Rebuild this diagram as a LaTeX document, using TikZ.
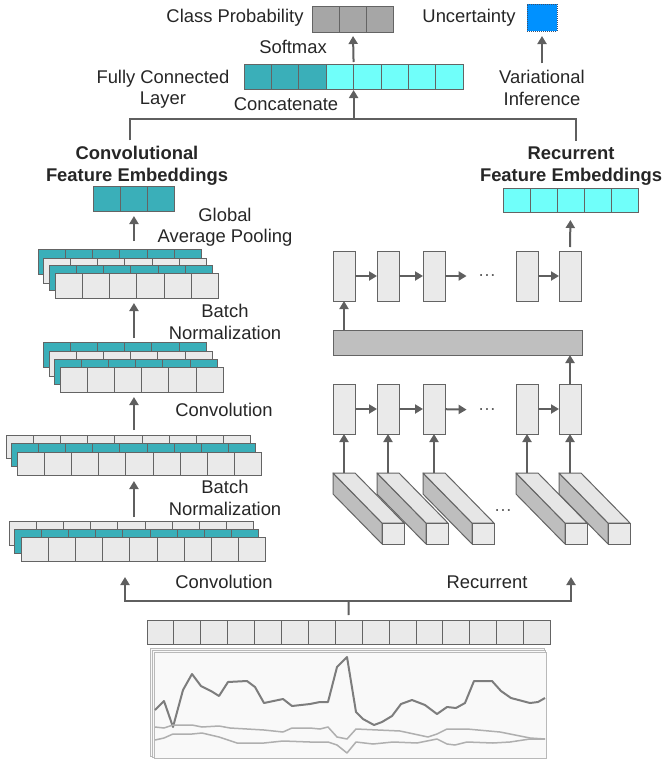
\documentclass[tikz,border=0pt]{standalone}
\usepackage{fontspec}
\setmainfont{Liberation Sans}
\usetikzlibrary{arrows.meta}
\definecolor{tealcell}{RGB}{58,175,185}
\definecolor{cyancell}{RGB}{112,255,250}
\definecolor{graycell}{RGB}{234,234,234}
\definecolor{probcell}{RGB}{166,166,166}
\definecolor{uncblue}{RGB}{0,145,255}
\definecolor{uncline}{RGB}{60,80,110}
\definecolor{barfill}{RGB}{191,191,191}
\definecolor{sidefill}{RGB}{190,190,190}
\definecolor{topfill}{RGB}{230,230,230}
\definecolor{edgegray}{RGB}{100,100,100}
\definecolor{arrowgray}{RGB}{95,95,95}
\definecolor{textgray}{RGB}{38,38,38}
\definecolor{pagefill}{RGB}{249,249,249}
\definecolor{pageline}{RGB}{185,185,185}
\definecolor{darkline}{RGB}{125,125,125}
\definecolor{lightline}{RGB}{175,175,175}

\tikzset{
    cellbox/.style={draw=edgegray, line width=1pt, inner sep=0pt, outer sep=0pt, anchor=north west},
    cellline/.style={draw=edgegray, line width=1pt},
    rnncell/.style={cellbox, fill=graycell, minimum width=22pt, minimum height=50pt},
    fcfill/.style={fill=cyancell, path picture={\fill[tealcell] (path picture bounding box.north west) rectangle ([xshift=82.2pt]path picture bounding box.south west);}},
    arr/.style={draw=arrowgray, line width=2pt, -{Triangle[length=8pt,width=9pt]}},
    link/.style={draw=arrowgray, line width=2pt},
    lbl/.style={text=textgray, font=\fontsize{18.4}{21.5}\selectfont, align=center, inner sep=0pt},
    ttl/.style={lbl, font=\fontsize{18.4}{21.5}\selectfont\bfseries},
    dots/.style={text=arrowgray, font=\fontsize{18.4}{21.5}\selectfont, inner sep=0pt},
}

% row of cells: name, x, y, cells, options, cell width, height
\newcommand{\cellrow}[7]{%
    \node[cellbox, #5, minimum width=#4*#6pt, minimum height=#7pt] (#1) at (#2,#3) {};
    \pgfmathtruncatemacro{\lastcell}{#4-1}
    \foreach \k in {1,...,\lastcell} {
        \draw[cellline] ([xshift=\k*#6pt]#1.north west) -- ([xshift=\k*#6pt]#1.south west);
    }
}

\begin{document}
\begin{tikzpicture}[x=1pt, y=-1pt]
    \useasboundingbox (0,0) rectangle (663,761);

    % Outputs
    \cellrow{prob}{312}{6}{3}{fill=probcell}{27.3}{26}
    \node[cellbox, fill=uncblue, draw=uncline, densely dotted, minimum width=30pt, minimum height=27pt] (unc) at (527,4) {};
    \node[lbl] (problbl) at (235,18) {Class Probability};
    \node[lbl] (unclbl) at (469,18) {Uncertainty};
    \node[lbl] (softlbl) at (293,47) {Softmax};
    \node[lbl] (varlbl) at (542,88) {Variational\\Inference};

    % Fully connected layer
    \cellrow{fc}{244}{64}{8}{fcfill}{27.4}{25}
    \node[lbl] (fclbl) at (163,89) {Fully Connected\\Layer};
    \node[lbl] (catlbl) at (286,104) {Concatenate};
    \draw[arr, shorten <=2pt, shorten >=4pt] (fc.north) -- (prob.south);
    \draw[arr, shorten <=7pt, shorten >=5pt] (varlbl.north) -- (unc.south);

    % Feature embeddings
    \node[ttl] (convlbl) at (137,166) {Convolutional\\Feature Embeddings};
    \node[ttl] (reclbl) at (571,166) {Recurrent\\Feature Embeddings};
    \cellrow{convemb}{93}{186}{3}{fill=tealcell}{27.3}{25}
    \cellrow{recemb}{503}{188}{5}{fill=cyancell}{27}{24}

    \coordinate (jl) at (130,119);
    \coordinate (jr) at (576,119);
    \draw[link, shorten <=6pt, shorten >=6pt] (convlbl.north -| jl) -- (jl) -- (jr) -- (reclbl.north -| jr);
    \draw[arr, shorten >=1pt] (fc.south |- jl) -- (fc.south);

    % Convolutional branch
    \begin{scope}[shift={(38,249)}]
        \foreach \dx/\dy/\col [count=\i] in {0/0/tealcell, 5/9/graycell, 11/16/tealcell, 17/24/graycell} {
            \cellrow{sa\i}{\dx}{\dy}{6}{fill=\col}{27.3}{25}
        }
    \end{scope}
    \begin{scope}[shift={(43,342)}]
        \foreach \dx/\dy/\col [count=\i] in {0/0/tealcell, 6/9/graycell, 11/17/tealcell, 17/25/graycell} {
            \cellrow{sb\i}{\dx}{\dy}{6}{fill=\col}{27.2}{25}
        }
    \end{scope}
    \begin{scope}[shift={(6,435)}]
        \foreach \dx/\dy/\col [count=\i] in {0/0/graycell, 5/8/tealcell, 11/17/graycell} {
            \cellrow{sc\i}{\dx}{\dy}{9}{fill=\col}{27.2}{23}
        }
    \end{scope}
    \begin{scope}[shift={(9,521)}]
        \foreach \dx/\dy/\col [count=\i] in {0/0/graycell, 5/8/tealcell, 12/16/graycell} {
            \cellrow{sd\i}{\dx}{\dy}{9}{fill=\col}{27.2}{24}
        }
    \end{scope}

    \draw[arr, shorten <=4pt, shorten >=6pt] (sd1.north -| convemb) -- (sc3.south -| convemb);
    \draw[arr, shorten <=5pt, shorten >=5pt] (sc1.north -| convemb) -- (sb4.south -| convemb);
    \draw[arr, shorten <=4pt, shorten >=5pt] (sb1.north -| convemb) -- (sa4.south -| convemb);
    \draw[arr, shorten <=8pt, shorten >=5pt] (sa1.north -| convemb) -- (convemb.south);

    \node[lbl] (gaplbl) at (225,227) {Global\\Average Pooling};
    \node[lbl] (bnalbl) at (225,322) {Batch\\Normalization};
    \node[lbl] (cvalbl) at (224,410) {Convolution};
    \node[lbl] (bnblbl) at (225,498) {Batch\\Normalization};
    \node[lbl] (cvblbl) at (224,582) {Convolution};
    \node[lbl] (rnnlbl) at (487,582) {Recurrent};

    % Recurrent branch
    \foreach \px [count=\i] in {333,377,423,516,559} {
        \node[rnncell] (u\i) at (\px,251) {};
        \node[rnncell] (l\i) at (\px,384) {};
    }
    \node[cellbox, fill=barfill, minimum width=249pt, minimum height=25pt] (bar) at (333,330) {};
    \node[dots] (udots) at (487,276) {\ldots};
    \node[dots] (ldots) at (487,410) {\ldots};
    \node[dots] (pdots) at (503,511) {\ldots};

    \draw[arr] (u1) -- (u2);
    \draw[arr] (u2) -- (u3);
    \draw[arr, shorten >=11pt] (u3) -- (udots);
    \draw[arr] (u4) -- (u5);
    \draw[arr] (l1) -- (l2);
    \draw[arr] (l2) -- (l3);
    \draw[arr, shorten >=11pt] (l3) -- (ldots);
    \draw[arr] (l4) -- (l5);
    \draw[arr] (bar.north -| u1) -- (u1.south);
    \draw[arr] (l5.north) -- (l5.north |- bar.south);
    \draw[arr, shorten <=4pt, shorten >=8pt] (u5.north) -- (recemb.south);

    % Sequence slices
    \foreach \px [count=\i] in {333,377,423,516,559} {
        \filldraw[fill=sidefill, draw=edgegray, line width=1pt, line join=round] (\px,473) -- (\px+49,523) -- (\px+49,544) -- (\px,494) -- cycle;
        \filldraw[fill=topfill, draw=edgegray, line width=1pt, line join=round] (\px,473) -- (\px+22,473) -- (\px+71,523) -- (\px+49,523) -- cycle;
        \filldraw[fill=graycell, draw=edgegray, line width=1pt] (\px+49,523) rectangle (\px+71,544);
        \coordinate (p\i) at (\px+11,473);
        \draw[arr] (p\i) -- (l\i.south);
    }

    % Input sequence
    \cellrow{input}{147}{620}{15}{fill=graycell}{26.9}{24}
    \coordinate (fork) at (348.5,601);
    \coordinate (convin) at (125,577);
    \coordinate (recin) at (571,577);
    \draw[link, shorten <=5pt] (input.north) -- (fork);
    \draw[arr] (fork) -| (convin);
    \draw[arr] (fork) -| (recin);

    % Time series
    \foreach \o in {4,2,0} {
        \filldraw[fill=pagefill, draw=pageline, line width=1pt] (154-\o,652-\o) rectangle (546-\o/2,758-\o/2);
    }
    \draw[darkline, line width=2pt, line join=round] plot coordinates {(155,710) (164,701) (173,727) (183,690) (192,674) (201,686) (211,691) (219,696) (228,682) (247,681) (255,687) (264,703) (283,699) (292,706) (310,704) (320,702) (328,702) (337,667) (347,657) (356,712) (363,719) (374,725) (382,722) (392,716) (401,704) (412,700) (425,705) (437,714) (447,707) (456,708) (465,703) (474,681) (492,681) (501,691) (511,698) (530,703) (538,702) (545,698)};
    \draw[lightline, line width=1.5pt, line join=round] plot coordinates {(155,727) (164,728) (173,725) (192,725) (202,727) (219,726) (230,728) (264,730) (283,732) (292,728) (310,728) (320,729) (328,727) (337,737) (347,739) (356,729) (400,731) (428,737) (437,734) (447,729) (467,729) (500,732) (530,738) (545,739)};
    \draw[lightline, line width=1.5pt, line join=round] plot coordinates {(155,740) (164,738) (173,734) (192,734) (202,733) (219,737) (237,743) (264,743) (283,741) (310,742) (328,742) (337,745) (347,753) (356,742) (373,744) (393,742) (417,743) (437,739) (447,744) (455,745) (467,742) (493,743) (510,742) (530,739) (545,739)};
\end{tikzpicture}
\end{document}
